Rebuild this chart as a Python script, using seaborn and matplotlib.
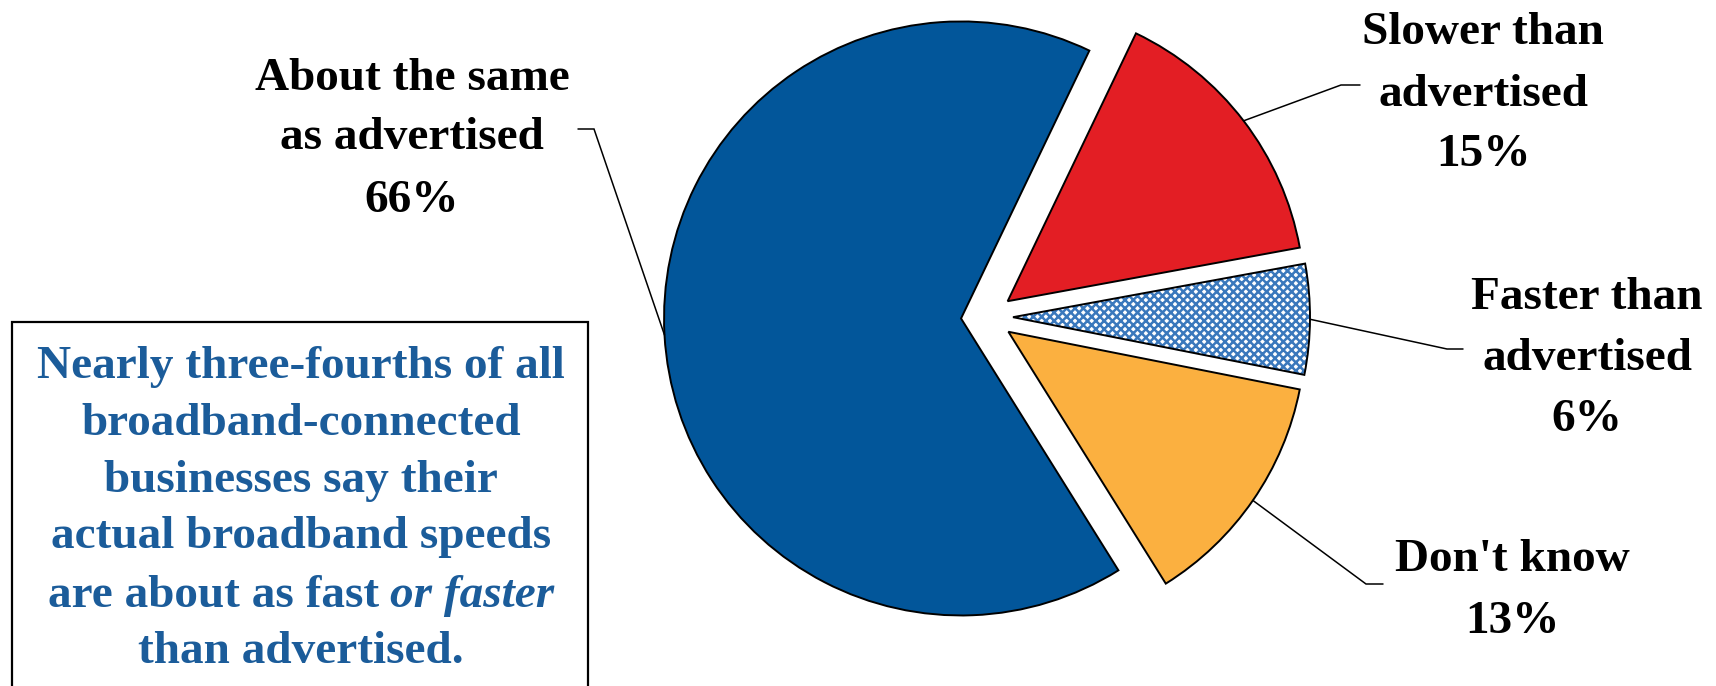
import numpy as np
import seaborn as sns
import matplotlib.pyplot as plt
from matplotlib.patches import Wedge, Rectangle

# --- data ---
categories = ["About the same\nas advertised", "Slower than\nadvertised",
              "Faster than\nadvertised", "Don't know"]
shares = [66, 15, 6, 13]
slice_colors = ["#02569A", "#E31E24", "#FFFFFF", "#FBB040"]
hatch_blue = "#3A78BC"
note_lines = ["Nearly three-fourths of all", "broadband-connected",
              "businesses say their", "actual broadband speeds",
              "are about as fast", "than advertised."]
note_italic = "or faster"

W, H = 1716, 686
sns.set_theme(style="white")
plt.rcParams["font.family"] = ["Liberation Serif", "DejaVu Serif"]
plt.rcParams["hatch.linewidth"] = 1.8

fig = plt.figure(figsize=(W / 100, H / 100), dpi=100)
ax = fig.add_axes([0, 0, 1, 1])
palette = sns.color_palette(slice_colors)

wedges, _ = ax.pie(shares, colors=palette, startangle=-58, counterclock=False,
                   center=(987, H - 317), radius=297, explode=[26] * 4,
                   wedgeprops=dict(edgecolor="black", linewidth=1.4))
ax.set_xlim(0, W)
ax.set_ylim(0, H)
ax.set_aspect("auto")
ax.axis("off")

# hatched slice: blue cross-hatch, black outline drawn on top
hw = wedges[2]
hw.set_hatch("xxxx")
hw.set_edgecolor(hatch_blue)
hw.set_linewidth(0)
ax.add_patch(Wedge(hw.center, hw.r, hw.theta1, hw.theta2, fill=False,
                   edgecolor="black", linewidth=1.4, zorder=hw.get_zorder() + 0.1))

# labels: centre x, baselines (px from top), leader elbow and end
label_x = [412, 1483, 1587, 1512]
label_base = [[90, 149, 212], [44, 106, 166], [309, 370, 431], [571, 633]]
elbows = [(594, 129), (1341, 85), (1447, 349), (1366, 584)]
ends = [(578, 129), (1360, 85), (1463, 349), (1383, 584)]

for i, wd in enumerate(wedges):
    lines = categories[i].split("\n") + [f"{shares[i]}%"]
    for txt, yb in zip(lines, label_base[i]):
        ax.text(label_x[i], H - yb, txt, ha="center", va="baseline",
                fontsize=34, fontweight="bold", color="black")
    mid = np.deg2rad((wd.theta1 + wd.theta2) / 2)
    px = wd.center[0] + wd.r * np.cos(mid)
    py = wd.center[1] + wd.r * np.sin(mid)
    ex, ey = elbows[i]
    fx, fy = ends[i]
    ax.plot([px, ex, fx], [py, H - ey, H - fy], color="black", lw=1.1,
            solid_joinstyle="miter", zorder=5)

# note box on the left
ax.add_patch(Rectangle((12, -20), 576, H - 322 + 20, fill=False,
                       edgecolor="black", linewidth=1.6))
note_color = "#1B5C9A"
note_base = [378, 435, 492, 548, 607, 663]
cx = 301
for j, (txt, yb) in enumerate(zip(note_lines, note_base)):
    if j != 4:
        ax.text(cx, H - yb, txt, ha="center", va="baseline", fontsize=34,
                fontweight="bold", color=note_color)
        continue
    # mixed line: regular part + italic part, centred together
    t1 = ax.text(0, H - yb, txt, ha="left", va="baseline", fontsize=34,
                 fontweight="bold", color=note_color)
    t2 = ax.text(0, H - yb, note_italic, ha="left", va="baseline", fontsize=34,
                 fontweight="bold", fontstyle="italic", color=note_color)
    fig.canvas.draw()
    r = fig.canvas.get_renderer()
    w1 = t1.get_window_extent(r).width + 11
    w2 = t2.get_window_extent(r).width
    x0 = cx - (w1 + w2) / 2
    t1.set_x(x0)
    t2.set_x(x0 + w1)

fig.savefig("out.png", dpi=100)
